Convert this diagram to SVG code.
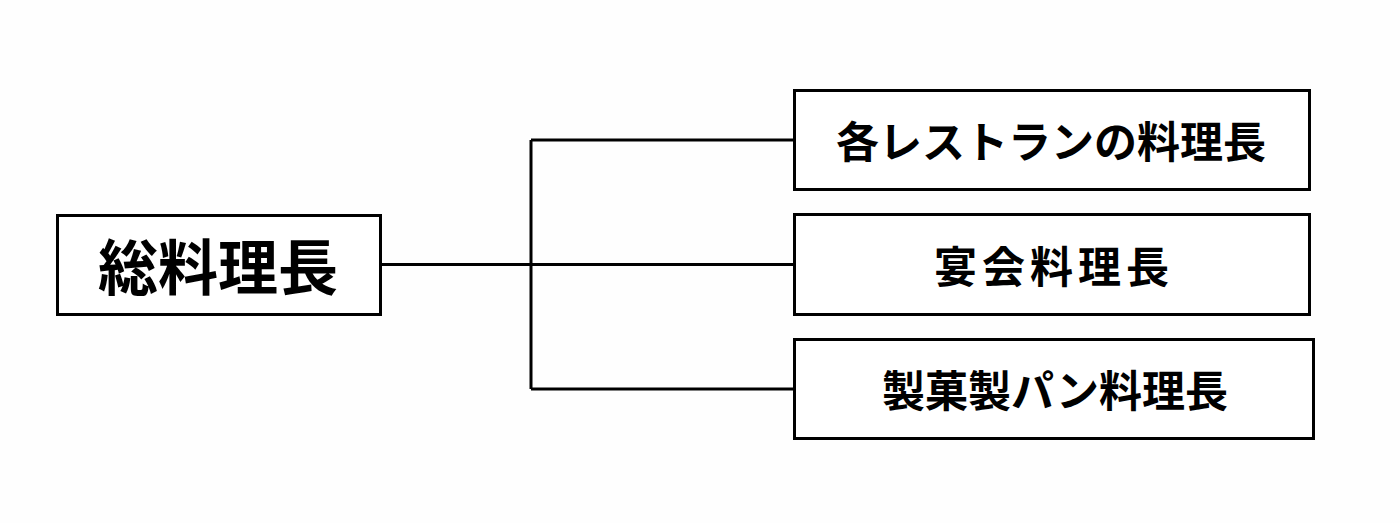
<svg xmlns="http://www.w3.org/2000/svg" width="1400" height="523" viewBox="0 0 1400 523">
<style>
.box{fill:#ffffff;stroke:#000000;stroke-width:3}
.con{fill:none;stroke:#000000;stroke-width:3}
text{font-family:"Noto Sans CJK JP","Noto Sans CJK SC",sans-serif;font-weight:bold;fill:#000000;text-anchor:middle;dominant-baseline:central}
</style>
<rect width="1400" height="523" fill="#fefefe"/>
<g id="connectors">
<path class="con" d="M381 264.5H793M531 140V389M531 140H793M531 389H793"/>
</g>
<g id="node-chief">
<rect class="box" x="57.5" y="215.5" width="323" height="99"/>
<text x="218" y="263" font-size="60">総料理長</text>
</g>
<g id="node-restaurant">
<rect class="box" x="794.5" y="90.5" width="515" height="99"/>
<text x="1051" y="139" font-size="43">各レストランの料理長</text>
</g>
<g id="node-banquet">
<rect class="box" x="794.5" y="214.5" width="515" height="100"/>
<text x="1054" y="264" font-size="43" letter-spacing="5">宴会料理長</text>
</g>
<g id="node-pastry">
<rect class="box" x="794.5" y="339.5" width="519" height="99"/>
<text x="1055" y="388" font-size="43">製菓製パン料理長</text>
</g>
</svg>
